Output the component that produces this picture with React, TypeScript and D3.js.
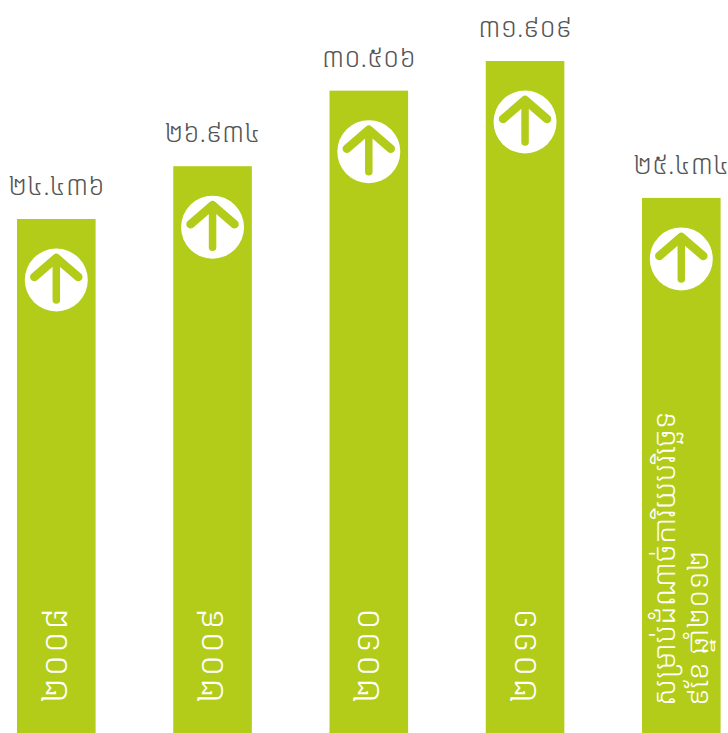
import React from "react";
import * as d3 from "d3";

const years = ["២០០៨", "២០០៩", "២០១០", "២០១១", "សម្រាប់ដំណាច់ការិយបរិច្ឆេទ"];
const yearsSecondLine = ["", "", "", "", "៩ខែ ឆ្នាំ២០១២"];
const values = [24436, 26934, 30506, 31909, 25434];
const valueLabels = ["២៤.៤៣៦", "២៦.៩៣៤", "៣០.៥០៦", "៣១.៩០៩", "២៥.៤៣៤"];

const W = 728;
const H = 733;
const GREEN = "#b3cc1a";
const FONT = "'Noto Sans Khmer','Khmer OS','Khmer OS System','DejaVu Sans',sans-serif";

const x = d3.scaleBand<number>().domain(d3.range(values.length)).range([17, 720.6]).paddingInner(0.497).paddingOuter(0);
const y = d3.scaleLinear().domain([0, 31909]).range([735.7, 61]);

export default function App() {
  const bw = x.bandwidth();
  return (
    <svg width={W} height={H} style={{ position: "absolute", left: 0, top: 0, background: "#fff" }} fontFamily={FONT}>
      {values.map((v, i) => {
        const bx = x(i) as number;
        const top = y(v);
        const cx = bx + bw / 2;
        const cy = top + 61;
        return (
          <g key={i}>
            <rect x={bx} y={top} width={bw} height={y(0) - top} fill={GREEN} />
            <circle cx={cx} cy={cy} r={31.5} fill="#fff" />
            <path
              d={`M${cx},${cy + 20}V${cy - 20}`}
              fill="none"
              stroke={GREEN}
              strokeWidth={7.5}
              strokeLinecap="round"
            />
            <path
              d={`M${cx - 22},${cy - 3}L${cx},${cy - 22}L${cx + 22},${cy - 3}`}
              fill="none"
              stroke={GREEN}
              strokeWidth={8.5}
              strokeLinecap="round"
              strokeLinejoin="round"
            />
            <text x={cx} y={top - 24} textAnchor="middle" fontSize={26.5} fontWeight={300} fill="#555">
              {valueLabels[i]}
            </text>
            {yearsSecondLine[i] ? (
              <g>
                <text transform={`translate(${cx - 6},706) rotate(-90)`} fontSize={30} fontWeight={300} fill="#fff">{years[i]}</text>
                <text transform={`translate(${cx + 27},706) rotate(-90)`} fontSize={29.5} fontWeight={300} fill="#fff">{yearsSecondLine[i]}</text>
              </g>
            ) : (
              <text transform={`translate(${cx + 10.5},703) rotate(-90)`} fontSize={35} fontWeight={300} letterSpacing={1.8} fill="#fff">{years[i]}</text>
            )}
          </g>
        );
      })}
    </svg>
  );
}
